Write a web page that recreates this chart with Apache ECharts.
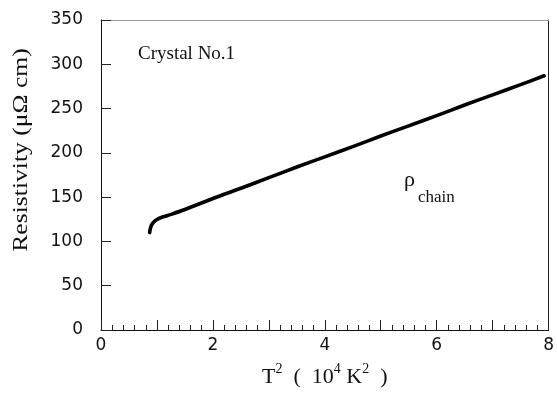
<!DOCTYPE html>
<html>
<head>
<meta charset="utf-8">
<script src="https://cdn.jsdelivr.net/npm/echarts@6/dist/echarts.min.js"></script>
<style>html,body{margin:0;padding:0;background:#fff}#c{width:557px;height:393px}</style>
</head>
<body>
<div id="c"></div>
<script>
// T^2 (10^4 K^2)
var tSquared = [0.87, 0.88, 0.90, 0.93, 0.97, 1.02, 1.10, 1.25, 1.5, 2.0, 2.5, 3.0, 3.5, 4.0, 4.5, 5.0, 5.5, 6.0, 6.5, 7.0, 7.5, 7.92];
// Resistivity (μΩ cm)
var resistivity = [110, 114, 118, 121, 123.5, 125.5, 127.5, 130.5, 136, 148.5, 160, 172, 184, 195.5, 207, 219, 230.5, 242, 254, 265.5, 277, 287];
var xTickLabels = [0, 2, 4, 6, 8];
var yTickLabels = [0, 50, 100, 150, 200, 250, 300, 350];

var data = tSquared.map(function (x, i) { return [x, resistivity[i]]; });
var chart = echarts.init(document.getElementById('c'), null, {renderer: 'canvas'});
var serif = 'Liberation Serif';
var sans = 'DejaVu Sans';
chart.setOption({
  animation: false,
  backgroundColor: '#fff',
  grid: {left: 101, right: 4, top: 20, bottom: 57},
  xAxis: [{
    type: 'value', min: 0, max: 8, interval: 1,
    axisLine: {lineStyle: {color: '#111', width: 1}},
    axisTick: {inside: true, length: 10, lineStyle: {color: '#222', width: 1}},
    minorTick: {show: true, splitNumber: 5, length: 5, lineStyle: {color: '#222', width: 1}},
    splitLine: {show: false},
    axisLabel: {
      margin: 7, color: '#111', fontFamily: sans, fontSize: 17,
      formatter: function (v) { return xTickLabels.indexOf(v) >= 0 ? String(v) : ''; }
    },
    name: '{a|T}{s|2}{a|  (  10}{s|4}{a| K}{s|2}{a|  )}',
    nameLocation: 'middle', nameGap: 32,
    nameTextStyle: {
      rich: {
        a: {fontFamily: serif, fontSize: 22, color: '#111', lineHeight: 26, verticalAlign: 'bottom'},
        s: {fontFamily: serif, fontSize: 14, color: '#111', lineHeight: 16, verticalAlign: 'top'}
      }
    }
  }, {
    type: 'value', min: 0, max: 8, position: 'top',
    axisLine: {show: true, onZero: false, lineStyle: {color: '#999', width: 1}},
    axisTick: {show: false}, axisLabel: {show: false}, splitLine: {show: false}
  }],
  yAxis: [{
    type: 'value', min: 0, max: 350, interval: 50,
    axisLine: {show: true, lineStyle: {color: '#111', width: 1}},
    axisTick: {show: true, inside: true, length: 10, lineStyle: {color: '#222', width: 1}},
    splitLine: {show: false},
    axisLabel: {
      margin: 18, color: '#111', fontFamily: sans, fontSize: 17,
      formatter: function (v) { return yTickLabels.indexOf(v) >= 0 ? String(v) : ''; }
    }
  }, {
    type: 'value', min: 0, max: 350, position: 'right',
    axisLine: {show: true, onZero: false, lineStyle: {color: '#222', width: 1}},
    axisTick: {show: false}, axisLabel: {show: false}, splitLine: {show: false}
  }],
  graphic: [
    {type: 'text', x: 21.5, y: 150, rotation: Math.PI / 2, scaleX: 1.28,
     style: {text: 'Resistivity (μΩ cm)', font: '20px "Liberation Serif"', fill: '#111', align: 'center', verticalAlign: 'middle'}},
    {type: 'text', x: 138, y: 53.6,
     style: {text: 'Crystal No.1', font: '19px "Liberation Serif"', fill: '#111', align: 'left', verticalAlign: 'middle'}},
    {type: 'text', x: 404, y: 180.6,
     style: {text: 'ρ', font: '22px "Liberation Serif"', fill: '#111', align: 'left', verticalAlign: 'middle'}},
    {type: 'text', x: 418, y: 197.3,
     style: {text: 'chain', font: '17px "Liberation Serif"', fill: '#111', align: 'left', verticalAlign: 'middle'}}
  ],
  series: [{
    type: 'line', data: data, xAxisIndex: 0, yAxisIndex: 0,
    showSymbol: false, smooth: 0.3,
    lineStyle: {color: '#000', width: 3.6, cap: 'round', join: 'round'}
  }]
});
</script>
</body>
</html>
